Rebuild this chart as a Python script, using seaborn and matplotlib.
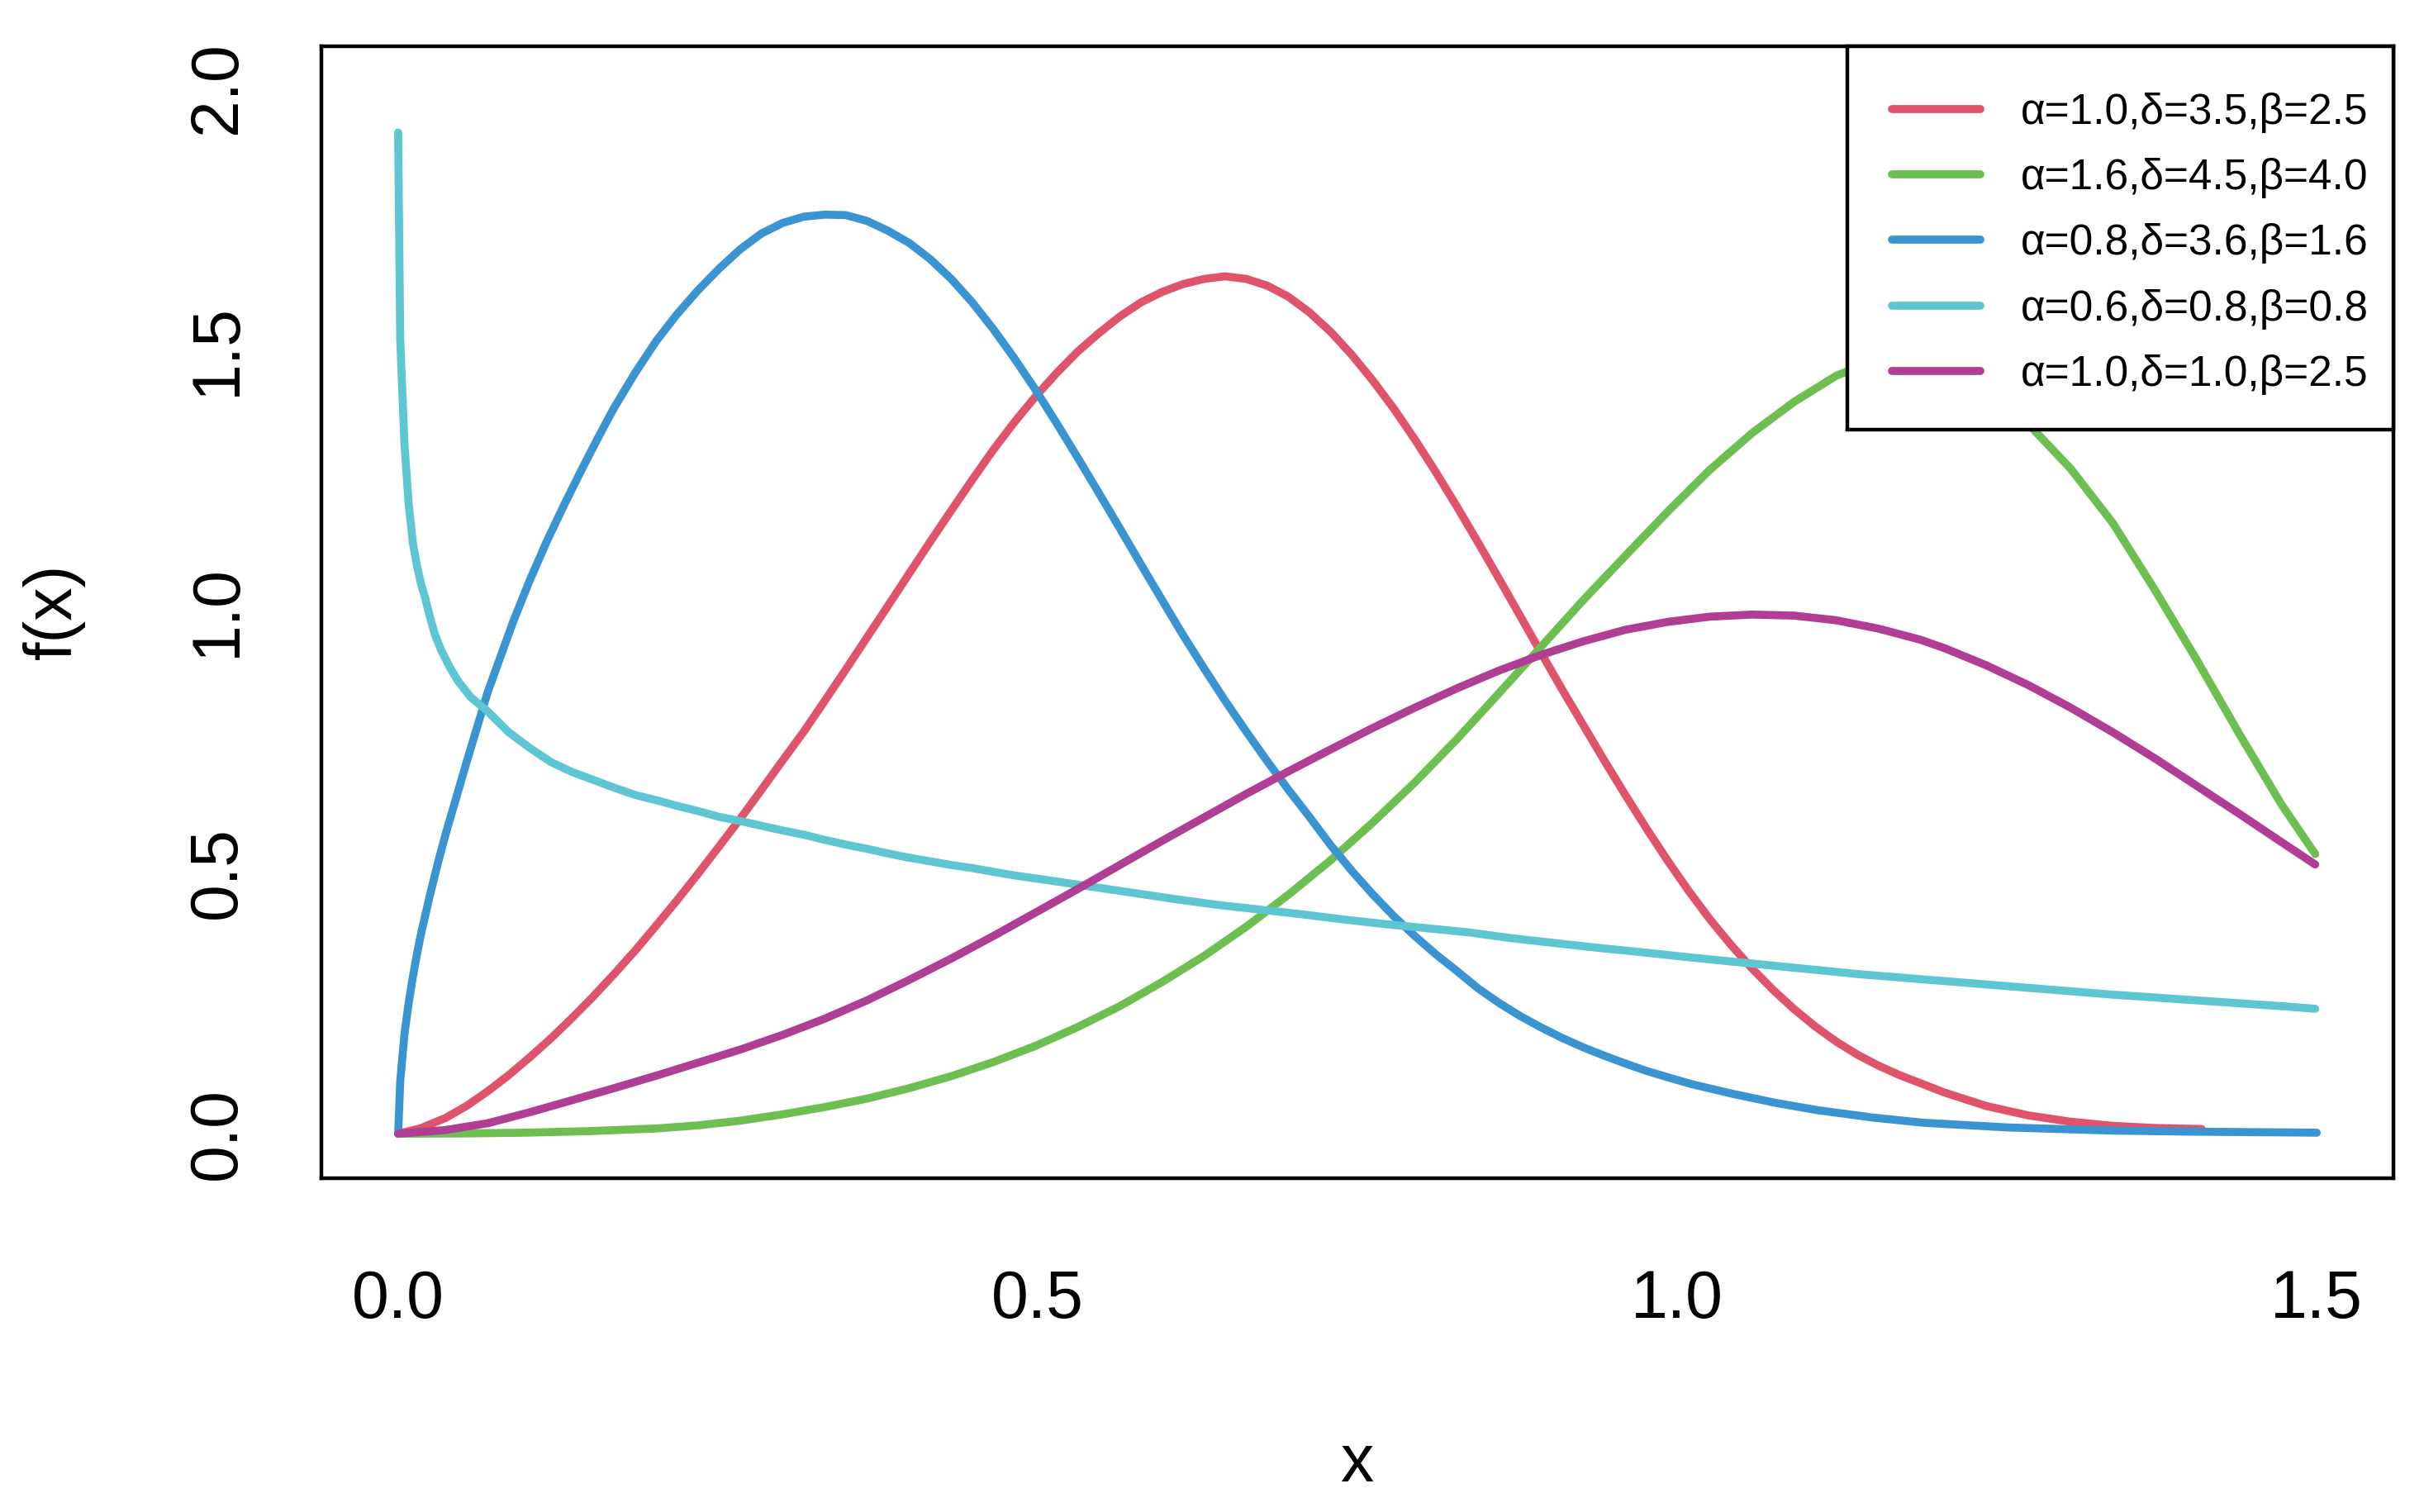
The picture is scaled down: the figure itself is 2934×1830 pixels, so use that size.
import matplotlib
matplotlib.use("Agg")
import matplotlib.pyplot as plt
import seaborn as sns
from matplotlib.patches import Rectangle

# Plot style (R base-graphics look)
sns.set_theme(style="white")
plt.rcParams["font.family"] = ["Liberation Sans", "DejaVu Sans"]
plt.rcParams["text.color"] = "black"
plt.rcParams["axes.labelcolor"] = "black"
plt.rcParams["xtick.color"] = "black"
plt.rcParams["ytick.color"] = "black"

# Values, one x/y pair of lists per curve
RED_X = [0.0, 0.0171, 0.0369, 0.0534, 0.0699, 0.0864, 0.1028, 0.1193, 0.1358, 0.1523,
         0.1687, 0.1852, 0.2017, 0.2182, 0.2347, 0.2511, 0.2676, 0.2841, 0.3006, 0.3171,
         0.3335, 0.35, 0.3665, 0.383, 0.3994, 0.4159, 0.4324, 0.4489, 0.4653, 0.4818,
         0.4983, 0.5148, 0.5313, 0.5477, 0.5642, 0.5807, 0.5972, 0.6136, 0.6301, 0.6466,
         0.6631, 0.6796, 0.696, 0.7125, 0.729, 0.7455, 0.7619, 0.7784, 0.7949, 0.8114,
         0.8279, 0.8443, 0.8608, 0.8773, 0.8938, 0.9102, 0.9267, 0.9432, 0.9597, 0.9762,
         0.9926, 1.0091, 1.0256, 1.0421, 1.0585, 1.075, 1.0915, 1.108, 1.1245, 1.141,
         1.1575, 1.174, 1.2087, 1.2416, 1.2746, 1.3075, 1.3405, 1.3734, 1.41]
RED_Y = [0.0, 0.010, 0.030, 0.053, 0.081, 0.112, 0.146, 0.182, 0.221, 0.262,
         0.305, 0.350, 0.398, 0.447, 0.498, 0.550, 0.603, 0.658, 0.714, 0.769,
         0.828, 0.888, 0.949, 1.010, 1.071, 1.132, 1.192, 1.251, 1.308, 1.361,
         1.410, 1.455, 1.496, 1.531, 1.563, 1.590, 1.610, 1.625, 1.635, 1.640,
         1.635, 1.622, 1.601, 1.571, 1.534, 1.490, 1.441, 1.387, 1.328, 1.265,
         1.199, 1.131, 1.061, 0.990, 0.919, 0.849, 0.781, 0.713, 0.647, 0.583,
         0.522, 0.464, 0.410, 0.361, 0.316, 0.275, 0.238, 0.205, 0.176, 0.151,
         0.130, 0.112, 0.079, 0.053, 0.035, 0.023, 0.015, 0.011, 0.009]

GREEN_X = [0.0, 0.05, 0.1, 0.15, 0.2017, 0.2347, 0.2676, 0.3006, 0.3335, 0.3665,
           0.3994, 0.4324, 0.4653, 0.4983, 0.5313, 0.5642, 0.5972, 0.6301, 0.6631, 0.696,
           0.729, 0.7619, 0.7949, 0.8279, 0.8608, 0.8938, 0.9267, 0.9597, 0.9926, 1.0256,
           1.0585, 1.0915, 1.1245, 1.1575, 1.19, 1.22, 1.25, 1.2813, 1.3076, 1.3406,
           1.3735, 1.4065, 1.4394, 1.4724, 1.4988]
GREEN_Y = [0.0, 0.0005, 0.002, 0.005, 0.010, 0.016, 0.025, 0.037, 0.051, 0.067,
           0.087, 0.110, 0.137, 0.168, 0.204, 0.244, 0.290, 0.340, 0.396, 0.457,
           0.523, 0.595, 0.672, 0.755, 0.843, 0.932, 1.021, 1.106, 1.190, 1.270,
           1.340, 1.400, 1.450, 1.482, 1.492, 1.475, 1.425, 1.340, 1.272, 1.168,
           1.040, 0.905, 0.765, 0.630, 0.535]

BLUE_X = [0.0, 0.0016, 0.0049, 0.0082, 0.0115, 0.0148, 0.0181, 0.0214, 0.0247, 0.0313,
          0.0379, 0.0445, 0.0534, 0.0699, 0.0798, 0.0897, 0.1028, 0.116, 0.1292, 0.1424,
          0.1556, 0.1687, 0.1852, 0.2017, 0.2182, 0.2347, 0.2511, 0.2676, 0.2841, 0.3006,
          0.3171, 0.3335, 0.35, 0.3665, 0.383, 0.3994, 0.4159, 0.4324, 0.4489, 0.4653,
          0.4818, 0.4983, 0.5148, 0.5313, 0.5477, 0.5642, 0.5807, 0.5972, 0.6136, 0.6301,
          0.6466, 0.6631, 0.6796, 0.696, 0.7125, 0.729, 0.7455, 0.7619, 0.7784, 0.7949,
          0.8114, 0.8279, 0.8443, 0.8608, 0.8773, 0.8938, 0.9102, 0.9267, 0.9432, 0.9597,
          0.9762, 0.9926, 1.011, 1.0439, 1.0769, 1.1098, 1.1527, 1.1923, 1.2582, 1.3406,
          1.4, 1.5]
BLUE_Y = [0.0, 0.10, 0.19, 0.25, 0.30, 0.345, 0.385, 0.42, 0.455, 0.52,
          0.58, 0.635, 0.71, 0.844, 0.911, 0.978, 1.058, 1.132, 1.200, 1.265,
          1.328, 1.388, 1.455, 1.516, 1.568, 1.614, 1.655, 1.692, 1.722, 1.742,
          1.754, 1.758, 1.757, 1.746, 1.727, 1.704, 1.673, 1.635, 1.590, 1.539,
          1.483, 1.423, 1.359, 1.293, 1.226, 1.158, 1.089, 1.021, 0.954, 0.890,
          0.828, 0.769, 0.712, 0.658, 0.606, 0.552, 0.503, 0.458, 0.416, 0.378,
          0.343, 0.311, 0.278, 0.250, 0.225, 0.203, 0.183, 0.165, 0.149, 0.134,
          0.120, 0.108, 0.095, 0.076, 0.059, 0.045, 0.031, 0.021, 0.012, 0.006,
          0.004, 0.002]

CYAN_X = [0.0, 0.0016, 0.0049, 0.0082, 0.0115, 0.0148, 0.0181, 0.0214, 0.0247, 0.0287,
          0.0336, 0.0402, 0.0468, 0.0567, 0.0699, 0.0864, 0.1028, 0.1193, 0.1358, 0.1523,
          0.1687, 0.1852, 0.2017, 0.2182, 0.2347, 0.2511, 0.2676, 0.2841, 0.3006, 0.3171,
          0.3335, 0.35, 0.3665, 0.383, 0.3994, 0.4159, 0.4324, 0.4489, 0.4653, 0.4818,
          0.5078, 0.5408, 0.5737, 0.6067, 0.6396, 0.6726, 0.7055, 0.7385, 0.7714, 0.8044,
          0.8373, 0.8703, 0.9032, 0.9362, 0.9691, 1.011, 1.0769, 1.1428, 1.2087, 1.2746,
          1.3405, 1.4065, 1.4724, 1.4988]
CYAN_Y = [1.915, 1.52, 1.32, 1.205, 1.13, 1.085, 1.05, 1.022, 0.99, 0.955,
          0.925, 0.893, 0.866, 0.835, 0.808, 0.768, 0.738, 0.711, 0.692, 0.677,
          0.662, 0.648, 0.638, 0.627, 0.617, 0.606, 0.598, 0.589, 0.580, 0.572,
          0.562, 0.553, 0.545, 0.536, 0.528, 0.521, 0.514, 0.508, 0.501, 0.494,
          0.485, 0.473, 0.461, 0.449, 0.438, 0.429, 0.420, 0.410, 0.401, 0.393,
          0.385, 0.374, 0.365, 0.356, 0.348, 0.337, 0.321, 0.305, 0.292, 0.279,
          0.266, 0.255, 0.244, 0.239]

MAGENTA_X = [0.0, 0.0369, 0.0699, 0.1028, 0.1358, 0.1687, 0.2017, 0.2347, 0.2676, 0.3006,
             0.3335, 0.3665, 0.3994, 0.4324, 0.4653, 0.4983, 0.5313, 0.5642, 0.5972, 0.6301,
             0.6631, 0.696, 0.729, 0.7619, 0.7949, 0.8279, 0.8608, 0.8938, 0.9267, 0.9597,
             0.9926, 1.0256, 1.0585, 1.0915, 1.1245, 1.1575, 1.19, 1.2087, 1.2416, 1.2746,
             1.3075, 1.3405, 1.3734, 1.4064, 1.4394, 1.4723, 1.4988]
MAGENTA_Y = [0.0, 0.007, 0.020, 0.041, 0.064, 0.087, 0.111, 0.136, 0.161, 0.189,
             0.220, 0.255, 0.294, 0.335, 0.378, 0.423, 0.468, 0.514, 0.560, 0.605,
             0.650, 0.693, 0.735, 0.776, 0.815, 0.852, 0.886, 0.916, 0.942, 0.964,
             0.979, 0.989, 0.993, 0.991, 0.982, 0.966, 0.945, 0.929, 0.896, 0.858,
             0.815, 0.768, 0.718, 0.665, 0.612, 0.558, 0.515]

LABELS = [
    "α=1.0,δ=3.5,β=2.5",
    "α=1.6,δ=4.5,β=4.0",
    "α=0.8,δ=3.6,β=1.6",
    "α=0.6,δ=0.8,β=0.8",
    "α=1.0,δ=1.0,β=2.5",
]
COLORS = ["#DF546B", "#6CBF50", "#3A94D1", "#5EC6D2", "#B03E94"]

X_TICKS = [0.0, 0.5, 1.0, 1.5]
Y_TICKS = [0.0, 0.5, 1.0, 1.5, 2.0]


def main() -> None:
    fig = plt.figure(figsize=(14.67, 9.15), dpi=200)
    ax = fig.add_axes([0.1326, 0.2208, 0.8548, 0.7486])
    ax.set_facecolor("white")

    series = [
        (RED_X, RED_Y),
        (GREEN_X, GREEN_Y),
        (BLUE_X, BLUE_Y),
        (CYAN_X, CYAN_Y),
        (MAGENTA_X, MAGENTA_Y),
    ]
    for (x_vals, y_vals), label, color in zip(series, LABELS, COLORS):
        sns.lineplot(
            x=x_vals,
            y=y_vals,
            color=color,
            linewidth=3.5,
            label=label,
            sort=False,
            estimator=None,
            ax=ax,
        )

    ax.set_xlim(-0.06, 1.56)
    ax.set_ylim(-0.085, 2.08)
    ax.set_xticks(X_TICKS)
    ax.set_xticklabels([f"{t:.1f}" for t in X_TICKS])
    ax.set_yticks(Y_TICKS)
    ax.set_yticklabels([f"{t:.1f}" for t in Y_TICKS], rotation=90, va="center")
    ax.tick_params(axis="both", direction="out", length=16.5, width=1.3, labelsize=29)
    ax.tick_params(axis="x", pad=23)
    ax.tick_params(axis="y", pad=15)
    ax.set_xlabel("")
    ax.set_ylabel("")
    for spine in ax.spines.values():
        spine.set_visible(True)
        spine.set_color("black")
        spine.set_linewidth(1.6)
    ax.grid(False)

    fig.text(0.5597, 0.0202, "x", ha="center", va="baseline", fontsize=29)
    fig.text(0.0222, 0.5956, "f(x)", ha="center", va="center", rotation=90, fontsize=29)

    # R-style legend box flush with the top-right corner of the plot region
    box = Rectangle(
        (0.7364, 0.6613), 0.2636, 0.3387,
        transform=ax.transAxes, facecolor="white", edgecolor="black",
        linewidth=1.6, zorder=5, clip_on=False,
    )
    ax.add_patch(box)

    leg = ax.legend(
        loc="upper left",
        bbox_to_anchor=(0.758, 0.9593),
        borderaxespad=0,
        borderpad=0,
        frameon=False,
        fontsize=18.5,
        handlelength=2.08,
        handletextpad=0.95,
        labelspacing=0.59,
    )
    leg.set_zorder(10)

    fig.savefig("out.png", dpi=200, facecolor="white")
    plt.close(fig)


if __name__ == "__main__":
    main()
